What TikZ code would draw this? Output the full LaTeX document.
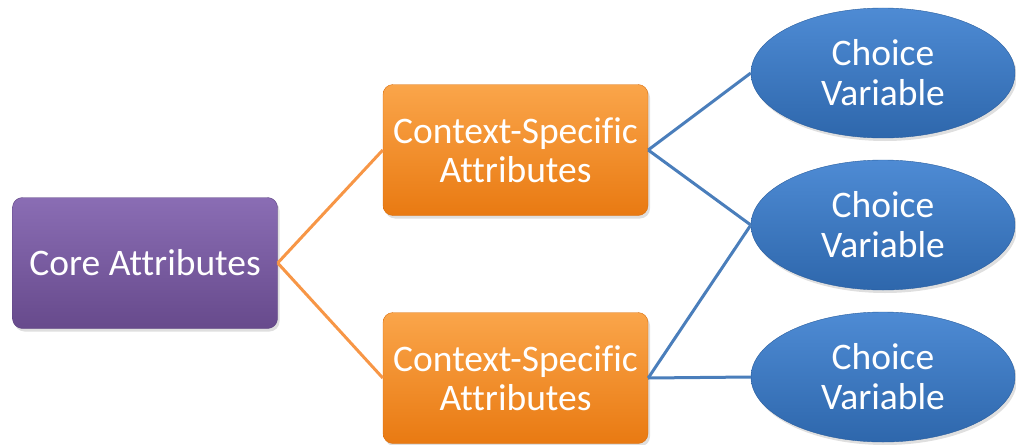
\documentclass[tikz,border=0pt]{standalone}
\usepackage{fontspec}
\setmainfont[Ligatures=NoCommon]{Carlito}
\usetikzlibrary{shapes.geometric}
\usetikzlibrary{shadows}
\definecolor{purpleTop}{HTML}{8A6DB4}
\definecolor{purpleBottom}{HTML}{674A8C}
\definecolor{purpleEdge}{HTML}{5E4482}
\definecolor{orangeTop}{HTML}{FAA54A}
\definecolor{orangeBottom}{HTML}{E97A12}
\definecolor{orangeEdge}{HTML}{D9700F}
\definecolor{blueTop}{HTML}{4E8BD4}
\definecolor{blueBottom}{HTML}{2E67AC}
\definecolor{blueEdge}{HTML}{2A5E9E}
\definecolor{orangeLine}{HTML}{F79646}
\definecolor{blueLine}{HTML}{4A7EBB}

\begin{document}
\begin{tikzpicture}
[x=1pt,y=-1pt,%
  lineOrange/.style={-,line width=3pt,draw=orangeLine},%
  lineBlue/.style={-,line width=3pt,draw=blueLine},%
  boxDecorate/.style={shape=rectangle,rounded corners=10pt,minimum width=265pt,minimum height=131pt,%
    inner sep=0pt,align=center,text=white,font=\fontsize{37.5}{39}\selectfont,%
    drop shadow={opacity=0.25,shadow xshift=2pt,shadow yshift=-3pt}},%
  coreDecorate/.style={boxDecorate,top color=purpleTop,bottom color=purpleBottom,draw=purpleEdge},%
  contextDecorate/.style={boxDecorate,top color=orangeTop,bottom color=orangeBottom,draw=orangeEdge},%
  choiceDecorate/.style={shape=ellipse,minimum width=264pt,minimum height=130pt,inner sep=0pt,%
    align=center,text=white,font=\fontsize{37.5}{40}\selectfont,%
    top color=blueTop,bottom color=blueBottom,draw=blueEdge,%
    drop shadow={opacity=0.25,shadow xshift=2pt,shadow yshift=-3pt}}]
\useasboundingbox (0,0) rectangle (1016,444);
%% boxes
\node[coreDecorate] (core) at (145,263) {Core Attributes};
\node[contextDecorate] (ctxA) at (515.5,150) {Context-Specific\\Attributes};
\node[contextDecorate] (ctxB) at (515.5,378) {Context-Specific\\Attributes};
%% choice variables
\foreach \nodename/\y in {choiceA/73, choiceB/225, choiceC/377}
{
  \node[choiceDecorate] (\nodename) at (883,\y) {Choice\\Variable};
}
%% connect boxes
\path
(core.east) edge[lineOrange] (ctxA.west)
(core.east) edge[lineOrange] (ctxB.west)
(ctxA.east) edge[lineBlue] (choiceA.west)
(ctxA.east) edge[lineBlue] (choiceB.west)
(ctxB.east) edge[lineBlue] (choiceB.west)
(ctxB.east) edge[lineBlue] (choiceC.west);
\end{tikzpicture}
\end{document}
